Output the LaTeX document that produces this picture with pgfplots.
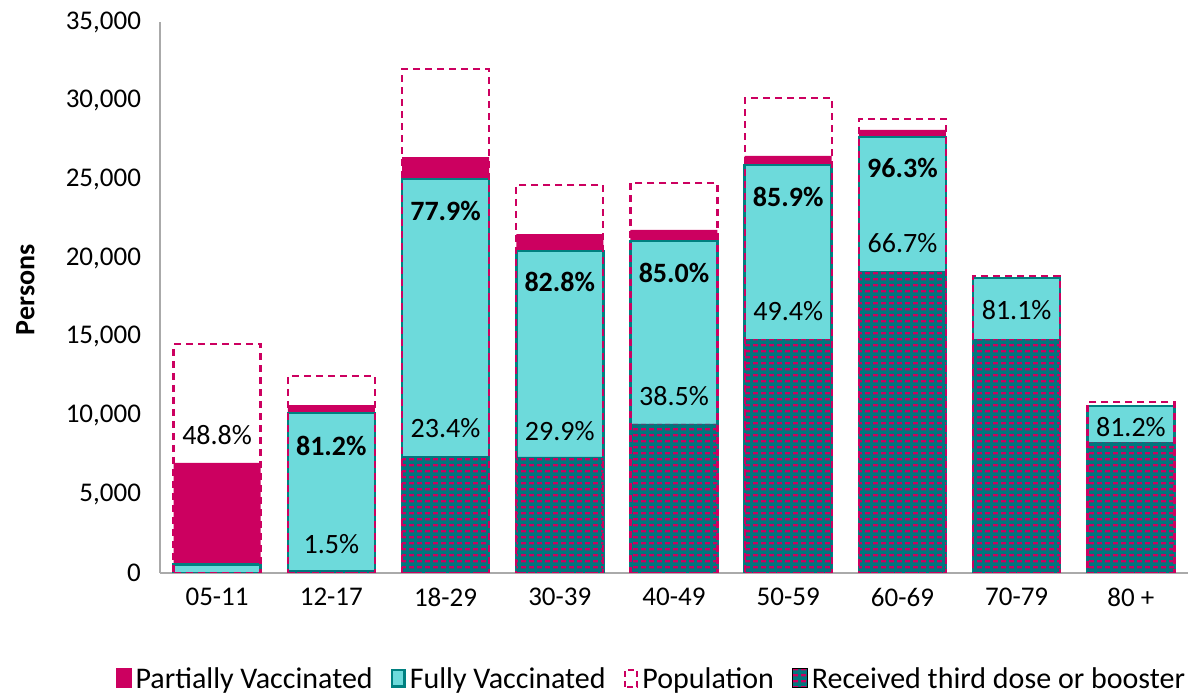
\documentclass[border=0pt]{standalone}
\usepackage{pgfplots}
\pgfplotsset{compat=1.18}
\usepackage{fontspec}
\setmainfont{Carlito}
\usetikzlibrary{patterns}
\definecolor{cpink}{RGB}{204,0,96}
\definecolor{ccyan}{RGB}{109,218,219}
\definecolor{cteal}{RGB}{0,128,128}
\definecolor{cbteal}{RGB}{0,118,125}
\definecolor{caxis}{RGB}{170,170,170}
\pgfdeclarepatternformonly{boosterdash}{\pgfqpoint{0pt}{0pt}}{\pgfqpoint{4pt}{3pt}}{\pgfqpoint{4pt}{3pt}}{%
  \pgfpathrectangle{\pgfqpoint{0.6pt}{0.9pt}}{\pgfqpoint{2.7pt}{1.3pt}}%
  \pgfusepath{fill}%
}
\begin{document}
\begin{tikzpicture}
\path[use as bounding box] (-80pt,-61.5pt) rectangle (515pt,286.5pt);
\begin{axis}[
  scale only axis, width=514pt, height=275.5pt,
  xmin=-0.5, xmax=8.5, ymin=0, ymax=35000,
  axis x line*=bottom, axis y line*=left,
  axis line style={draw=caxis, line width=0.8pt, -},
  xtick={0,...,8},
  xticklabels={05-11,12-17,18-29,30-39,40-49,50-59,60-69,70-79,80 +},
  ytick={0,5000,...,35000},
  major tick length=0pt,
  scaled y ticks=false,
  /pgf/number format/.cd, 1000 sep={,}, assume math mode=true,
  /pgfplots/.cd,
  tick label style={font=\fontsize{13.5}{16}\selectfont},
  xticklabel style={yshift=-4pt},
  yticklabel style={xshift=-6pt},
  ylabel={\bfseries Persons},
  ylabel style={font=\fontsize{14}{16}\selectfont, at={(axis description cs:-0.131,0.514)}, anchor=center},
  ybar, bar width=43.5pt,
  legend columns=4,
  legend style={draw=none, at={(0.479,-0.194)}, anchor=center, font=\fontsize{15}{17}\selectfont,
    /tikz/every even column/.append style={column sep=7pt}},
  legend cell align=left,
]
% Partially vaccinated (at least one dose)
\addplot[forget plot, bar shift=0pt, fill=cpink, draw=none] coordinates {
  (0,7000) (1,10670) (2,26420) (3,21530) (4,21790) (5,26490) (6,28140) (7,18800) (8,10650)};
% Fully vaccinated
\addplot[forget plot, bar shift=0pt, fill=ccyan, draw=cteal, line width=1.3pt] coordinates {
  (0,550) (1,10160) (2,25030) (3,20450) (4,21090) (5,25920) (6,27700) (7,18740) (8,10610)};
% Booster background
\addplot[forget plot, bar shift=0pt, fill=cbteal, draw=none] coordinates {
  (0,0) (1,190) (2,7430) (3,7370) (4,9470) (5,14860) (6,19180) (7,14860) (8,8320)};
% Booster pattern
\addplot[forget plot, bar shift=0pt, pattern=boosterdash, pattern color=cpink, draw=none] coordinates {
  (0,0) (1,190) (2,7430) (3,7370) (4,9470) (5,14860) (6,19180) (7,14860) (8,8320)};
% Population outline
\addplot[forget plot, bar shift=0pt, fill=none, draw=cpink, line width=1.2pt, dash pattern=on 3.5pt off 2.5pt] coordinates {
  (0,14550) (1,12520) (2,32000) (3,24650) (4,24770) (5,30170) (6,28840) (7,18870) (8,10860)};

\addlegendimage{legend image code/.code={\fill[cpink] (0pt,-4pt) rectangle (7.5pt,5.5pt);}}
\addlegendentry{Partially Vaccinated}
\addlegendimage{legend image code/.code={\filldraw[fill=ccyan, draw=cteal, line width=1.2pt] (0.6pt,-3.4pt) rectangle (6.9pt,4.9pt);}}
\addlegendentry{Fully Vaccinated}
\addlegendimage{legend image code/.code={\draw[cpink, line width=1.1pt, dash pattern=on 3pt off 2pt] (0.6pt,-3.4pt) rectangle (6.9pt,4.9pt);}}
\addlegendentry{Population}
\addlegendimage{legend image code/.code={\fill[cbteal] (0pt,-4pt) rectangle (7.5pt,5.5pt); \fill[pattern=boosterdash, pattern color=cpink] (0pt,-4pt) rectangle (7.5pt,5.5pt);}}
\addlegendentry{Received third dose or booster}

\begin{scope}[every node/.style={font=\fontsize{14}{16}\selectfont}]
\node at (axis cs:0,8770) {48.8\%};
\node at (axis cs:1,1840) {1.5\%};
\node at (axis cs:2,9210) {23.4\%};
\node at (axis cs:3,9020) {29.9\%};
\node at (axis cs:4,11240) {38.5\%};
\node at (axis cs:5,16640) {49.4\%};
\node at (axis cs:6,20960) {66.7\%};
\node at (axis cs:7,16710) {81.1\%};
\node at (axis cs:8,9270) {81.2\%};
\node[font=\fontsize{14}{16}\selectfont\bfseries] at (axis cs:1,8070) {81.2\%};
\node[font=\fontsize{14}{16}\selectfont\bfseries] at (axis cs:2,22990) {77.9\%};
\node[font=\fontsize{14}{16}\selectfont\bfseries] at (axis cs:3,18480) {82.8\%};
\node[font=\fontsize{14}{16}\selectfont\bfseries] at (axis cs:4,19060) {85.0\%};
\node[font=\fontsize{14}{16}\selectfont\bfseries] at (axis cs:5,23880) {85.9\%};
\node[font=\fontsize{14}{16}\selectfont\bfseries] at (axis cs:6,25730) {96.3\%};
\end{scope}
\end{axis}
\end{tikzpicture}
\end{document}
